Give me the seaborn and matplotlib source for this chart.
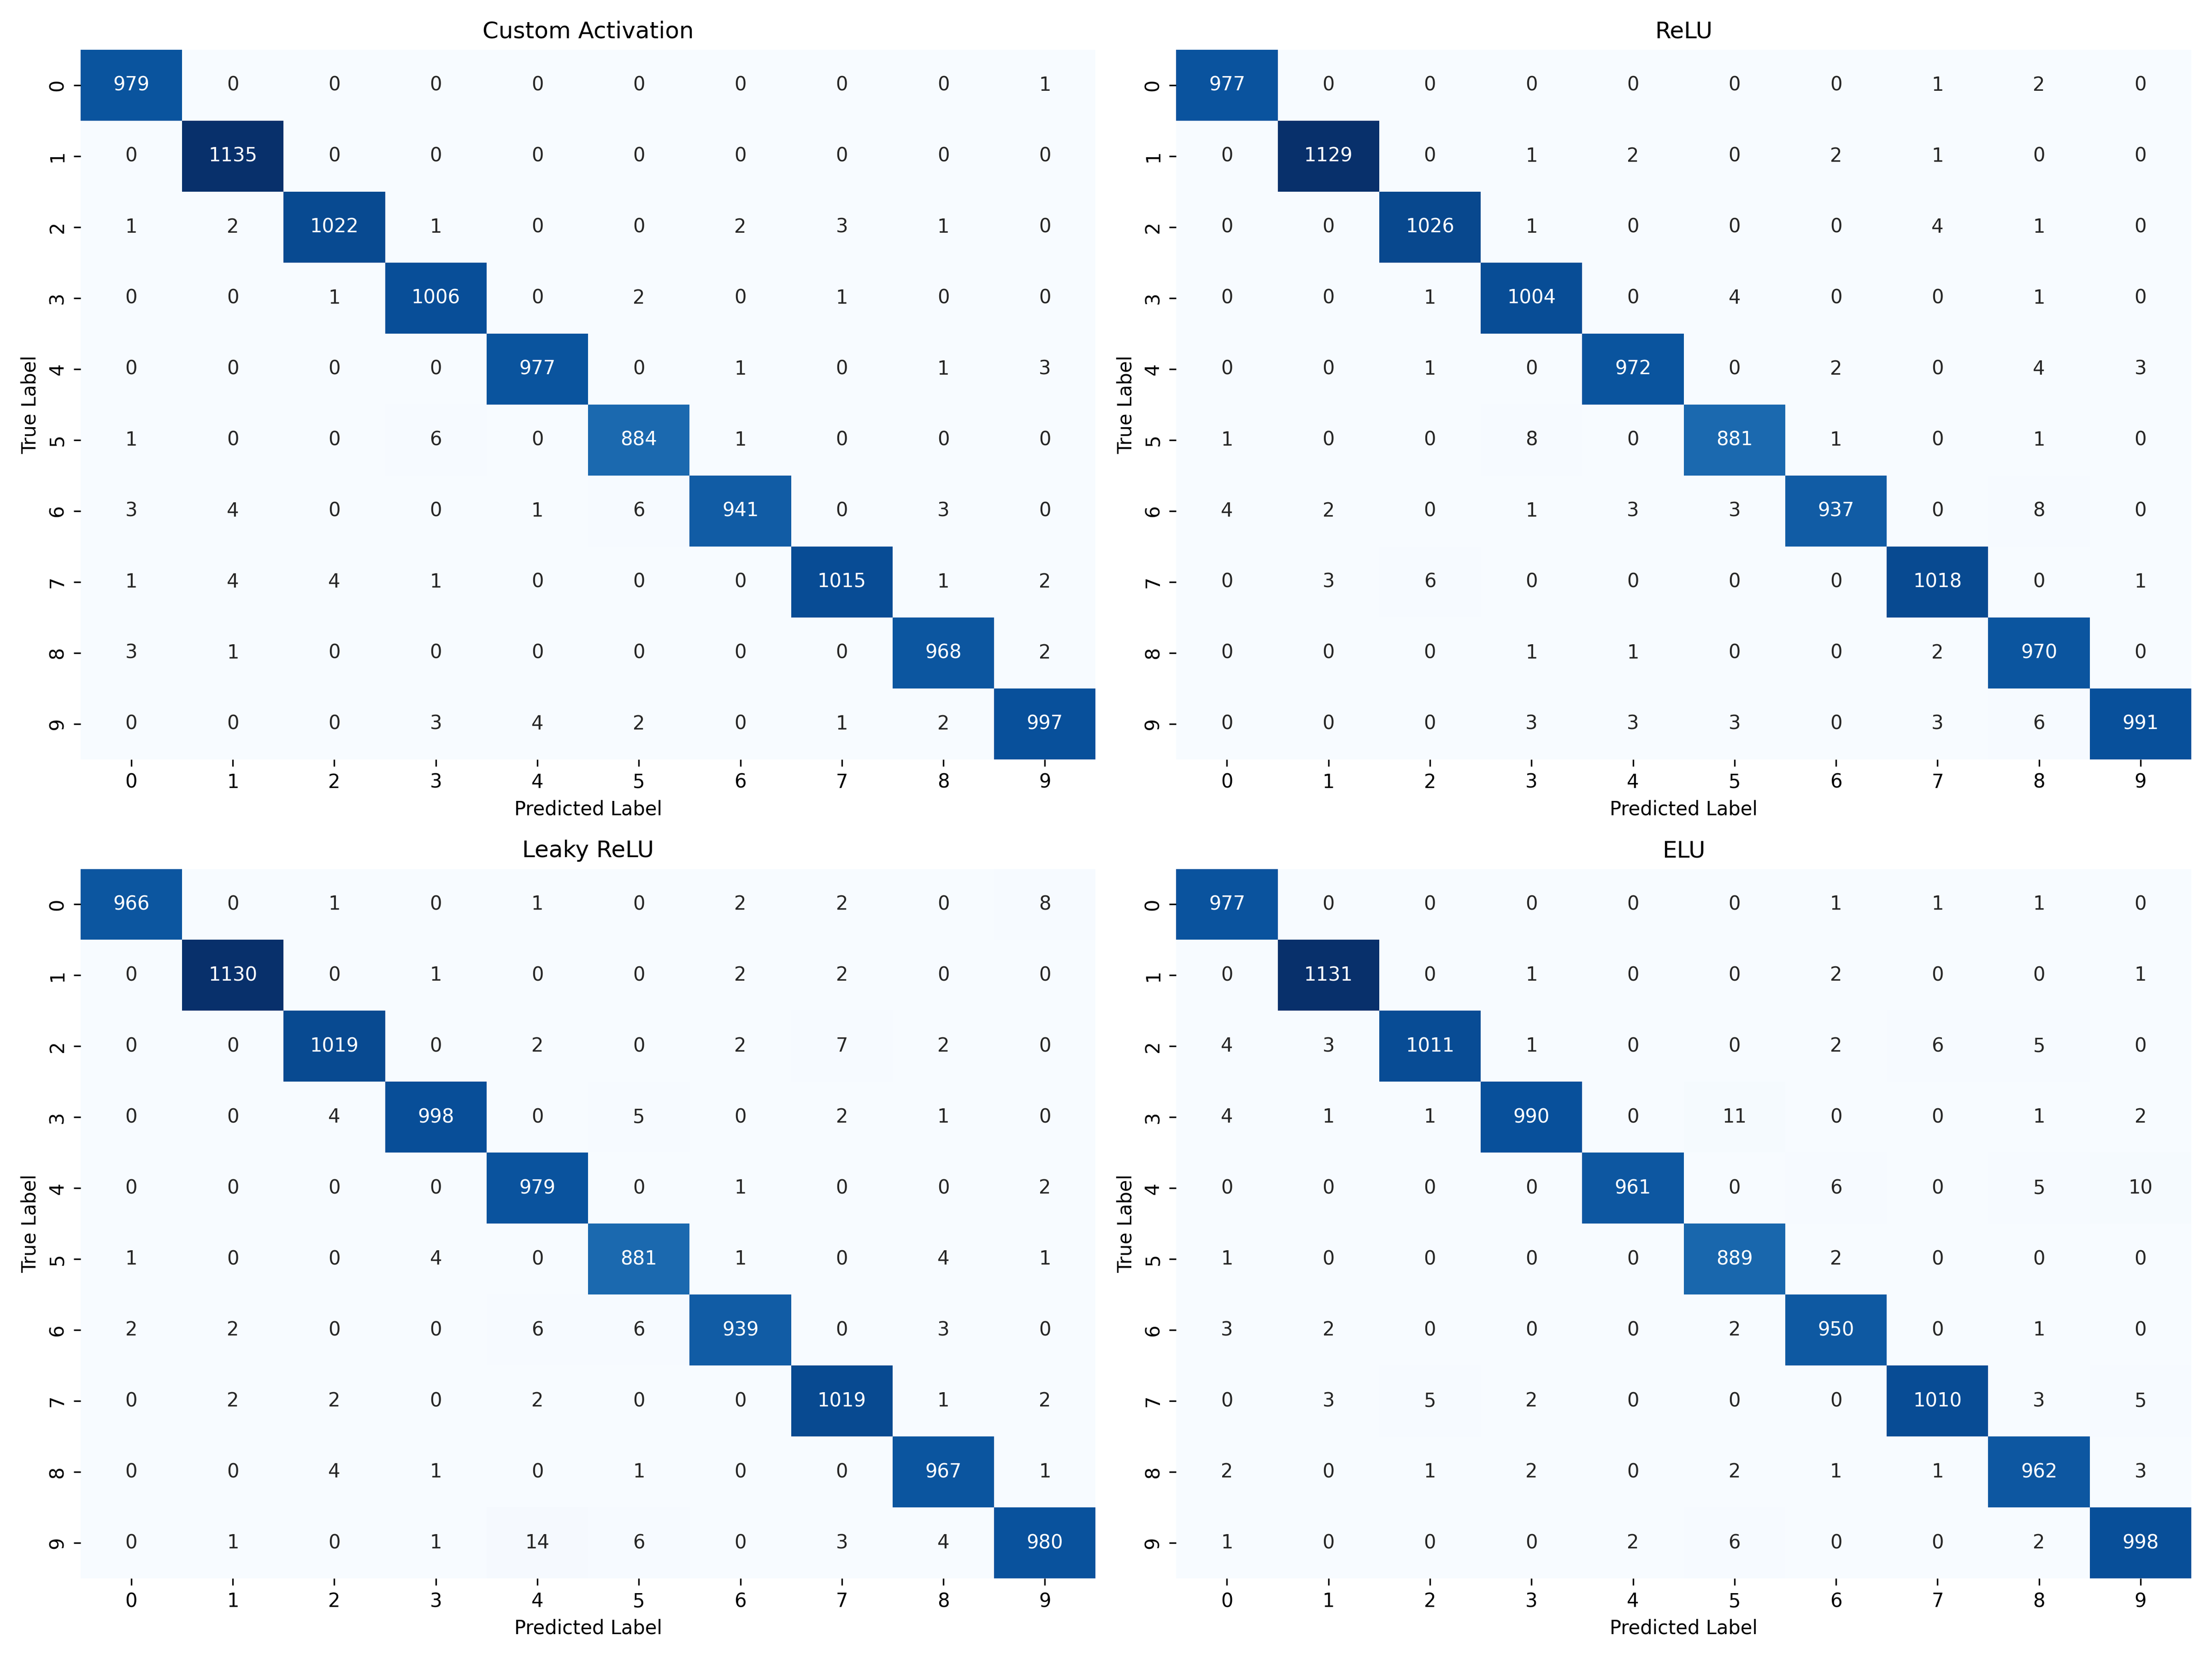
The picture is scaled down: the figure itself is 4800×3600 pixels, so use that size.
import numpy as np
import matplotlib
matplotlib.use("Agg")
import matplotlib.pyplot as plt
import seaborn as sns

labels = list(range(10))
titles = ["Custom Activation", "ReLU", "Leaky ReLU", "ELU"]

cm_custom = [
    [979, 0, 0, 0, 0, 0, 0, 0, 0, 1],
    [0, 1135, 0, 0, 0, 0, 0, 0, 0, 0],
    [1, 2, 1022, 1, 0, 0, 2, 3, 1, 0],
    [0, 0, 1, 1006, 0, 2, 0, 1, 0, 0],
    [0, 0, 0, 0, 977, 0, 1, 0, 1, 3],
    [1, 0, 0, 6, 0, 884, 1, 0, 0, 0],
    [3, 4, 0, 0, 1, 6, 941, 0, 3, 0],
    [1, 4, 4, 1, 0, 0, 0, 1015, 1, 2],
    [3, 1, 0, 0, 0, 0, 0, 0, 968, 2],
    [0, 0, 0, 3, 4, 2, 0, 1, 2, 997],
]
cm_relu = [
    [977, 0, 0, 0, 0, 0, 0, 1, 2, 0],
    [0, 1129, 0, 1, 2, 0, 2, 1, 0, 0],
    [0, 0, 1026, 1, 0, 0, 0, 4, 1, 0],
    [0, 0, 1, 1004, 0, 4, 0, 0, 1, 0],
    [0, 0, 1, 0, 972, 0, 2, 0, 4, 3],
    [1, 0, 0, 8, 0, 881, 1, 0, 1, 0],
    [4, 2, 0, 1, 3, 3, 937, 0, 8, 0],
    [0, 3, 6, 0, 0, 0, 0, 1018, 0, 1],
    [0, 0, 0, 1, 1, 0, 0, 2, 970, 0],
    [0, 0, 0, 3, 3, 3, 0, 3, 6, 991],
]
cm_leaky = [
    [966, 0, 1, 0, 1, 0, 2, 2, 0, 8],
    [0, 1130, 0, 1, 0, 0, 2, 2, 0, 0],
    [0, 0, 1019, 0, 2, 0, 2, 7, 2, 0],
    [0, 0, 4, 998, 0, 5, 0, 2, 1, 0],
    [0, 0, 0, 0, 979, 0, 1, 0, 0, 2],
    [1, 0, 0, 4, 0, 881, 1, 0, 4, 1],
    [2, 2, 0, 0, 6, 6, 939, 0, 3, 0],
    [0, 2, 2, 0, 2, 0, 0, 1019, 1, 2],
    [0, 0, 4, 1, 0, 1, 0, 0, 967, 1],
    [0, 1, 0, 1, 14, 6, 0, 3, 4, 980],
]
cm_elu = [
    [977, 0, 0, 0, 0, 0, 1, 1, 1, 0],
    [0, 1131, 0, 1, 0, 0, 2, 0, 0, 1],
    [4, 3, 1011, 1, 0, 0, 2, 6, 5, 0],
    [4, 1, 1, 990, 0, 11, 0, 0, 1, 2],
    [0, 0, 0, 0, 961, 0, 6, 0, 5, 10],
    [1, 0, 0, 0, 0, 889, 2, 0, 0, 0],
    [3, 2, 0, 0, 0, 2, 950, 0, 1, 0],
    [0, 3, 5, 2, 0, 0, 0, 1010, 3, 5],
    [2, 0, 1, 2, 0, 2, 1, 1, 962, 3],
    [1, 0, 0, 0, 2, 6, 0, 0, 2, 998],
]

matrices = [cm_custom, cm_relu, cm_leaky, cm_elu]

fig, axes = plt.subplots(2, 2, figsize=(16, 12), dpi=300)
for ax, cm, title in zip(axes.flat, matrices, titles):
    sns.heatmap(np.array(cm), annot=True, fmt="d", cmap="Blues", cbar=False,
                xticklabels=labels, yticklabels=labels, ax=ax)
    ax.set_title(title)
    ax.set_xlabel("Predicted Label")
    ax.set_ylabel("True Label")

plt.tight_layout()
fig.savefig("out.png", dpi=300)
